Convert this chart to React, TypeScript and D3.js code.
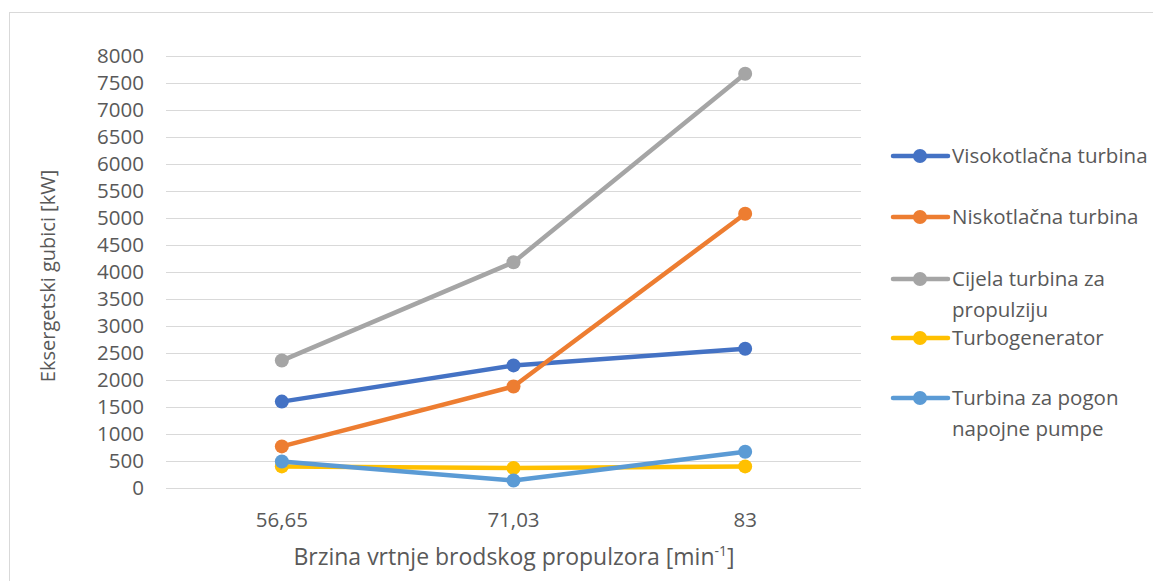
import React from "react";
import * as d3 from "d3";

const categories = ["56,65", "71,03", "83"];
const seriesNames = [
  "Visokotlačna turbina",
  "Niskotlačna turbina",
  "Cijela turbina za propulziju",
  "Turbogenerator",
  "Turbina za pogon napojne pumpe",
];
const legendLines = [
  ["Visokotlačna turbina"],
  ["Niskotlačna turbina"],
  ["Cijela turbina za", "propulziju"],
  ["Turbogenerator"],
  ["Turbina za pogon", "napojne pumpe"],
];
const visokotlacna = [1600, 2270, 2580];
const niskotlacna = [770, 1880, 5080];
const cijela = [2360, 4180, 7670];
const turbogenerator = [400, 370, 400];
const napojna = [490, 140, 670];
const seriesValues = [visokotlacna, niskotlacna, cijela, turbogenerator, napojna];
const colors = ["#4472C4", "#ED7D31", "#A5A5A5", "#FFC000", "#5B9BD5"];
const yTicks = d3.range(0, 8001, 500);

const W = 1153;
const H = 581;
const font = "'Open Sans', sans-serif";
const textColor = "#595959";

export default function App() {
  const x = d3.scaleBand<string>().domain(categories).range([166, 861]);
  const y = d3.scaleLinear().domain([0, 8000]).range([488, 56]);
  const cx = (c: string) => (x(c) as number) + x.bandwidth() / 2;
  const line = d3
    .line<number>()
    .x((_, i) => cx(categories[i]))
    .y((d) => y(d));
  const legendY = [156, 217, 279, 338, 398];
  return (
    <svg width={W} height={H} style={{ display: "block", position: "absolute", left: 0, top: 0 }}>
      <rect x={0} y={0} width={W} height={H} fill="#fff" />
      <rect x={9.5} y={12.5} width={W + 10} height={H + 10} fill="#fff" stroke="#D9D9D9" strokeWidth={1} />
      {yTicks.map((t) => (
        <g key={t}>
          <line x1={166} x2={861} y1={Math.round(y(t)) + 0.5} y2={Math.round(y(t)) + 0.5} stroke="#D9D9D9" strokeWidth={1.2} />
          <text x={144} y={y(t)} dy="0.35em" textAnchor="end" fontFamily={font} fontSize={20.5} fill={textColor}>
            {t}
          </text>
        </g>
      ))}
      {categories.map((c) => (
        <text key={c} x={cx(c)} y={527} textAnchor="middle" fontFamily={font} fontSize={20.5} fill={textColor}>
          {c}
        </text>
      ))}
      <text x={514} y={565} textAnchor="middle" fontFamily={font} fontSize={23} fill={textColor}>
        Brzina vrtnje brodskog propulzora [min
        <tspan dy={-9} fontSize={14}>-1</tspan>
        <tspan dy={9}>]</tspan>
      </text>
      <text
        transform={`translate(55, 276) rotate(-90)`}
        textAnchor="middle"
        fontFamily={font}
        fontSize={20}
        fill={textColor}
      >
        Eksergetski gubici [kW]
      </text>
      {seriesValues.map((vals, si) => (
        <g key={seriesNames[si]}>
          <path d={line(vals) as string} fill="none" stroke={colors[si]} strokeWidth={4.5} strokeLinejoin="round" />
          {vals.map((v, i) => (
            <circle key={i} cx={cx(categories[i])} cy={y(v)} r={7} fill={colors[si]} />
          ))}
        </g>
      ))}
      {legendLines.map((lines, si) => (
        <g key={si}>
          <line x1={893} x2={948} y1={legendY[si]} y2={legendY[si]} stroke={colors[si]} strokeWidth={4.5} strokeLinecap="round" />
          <circle cx={920} cy={legendY[si]} r={7} fill={colors[si]} />
          {lines.map((l, li) => (
            <text key={li} x={952} y={legendY[si] + li * 31} dy="0.35em" fontFamily={font} fontSize={20.5} fill={textColor}>
              {l}
            </text>
          ))}
        </g>
      ))}
    </svg>
  );
}
